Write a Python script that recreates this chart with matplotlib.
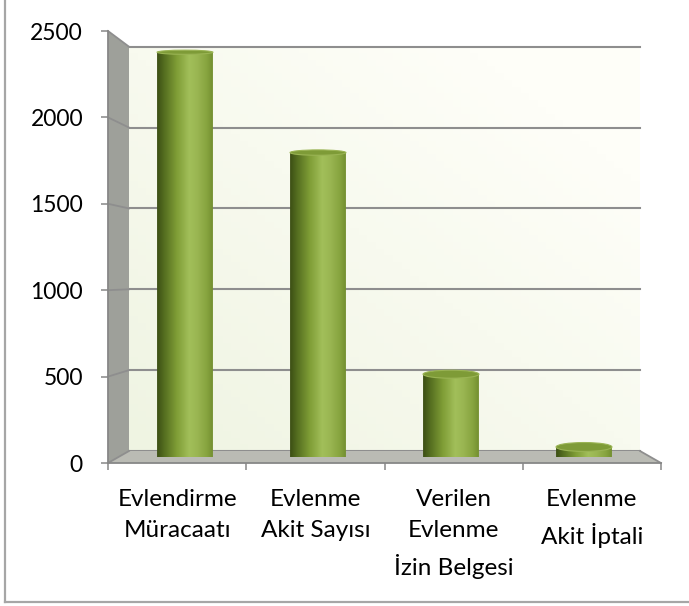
import numpy as np
import matplotlib
matplotlib.use("Agg")
import matplotlib.pyplot as plt
from matplotlib.patches import Polygon, Ellipse
from matplotlib.lines import Line2D
from matplotlib.transforms import IdentityTransform
from matplotlib.colors import LinearSegmentedColormap, to_rgb

# ---------------- data ----------------
categories = ["Evlendirme\nMüracaatı", "Evlenme\nAkit Sayısı",
              "Verilen\nEvlenme\nİzin Belgesi", "Evlenme\nAkit İptali"]
values = [2420, 1820, 495, 60]
y_ticks = [0, 500, 1000, 1500, 2000, 2500]
y_max = 2500

plt.rcParams['font.family'] = ['Lato', 'DejaVu Sans']

W, H = 689, 606
fig = plt.figure(figsize=(W / 100, H / 100), dpi=100)
fig.patch.set_facecolor('white')


def rect(l, t, r, b):
    return [l / W, 1 - b / H, (r - l) / W, (b - t) / H]


FRONT = (108, 31, 661, 463)
BACK = (129, 46.7, 640, 451)
MID = tuple((f + b) / 2 for f, b in zip(FRONT, BACK))
n = len(categories)

GRID = '#8e8e8e'
AXC = '#878787'

# ---------------- back wall ----------------
ax_back = fig.add_axes(rect(*BACK), zorder=0)
ax_back.set_xlim(0, n)
ax_back.set_ylim(0, y_max)
c1 = np.array(to_rgb('#eff4e2'))
c2 = np.array(to_rgb('#fefef8'))
gx, gy = np.meshgrid(np.linspace(0, 1, 60), np.linspace(0, 1, 60))
t = np.clip((gx * 0.6 + gy * 0.6), 0, 1)[..., None]
wall = c1 * (1 - t) + c2 * t
ax_back.imshow(wall, extent=(0, n, 0, y_max), origin='lower', aspect='auto', zorder=0)
ax_back.set_xlim(0, n)
ax_back.set_ylim(0, y_max)
ax_back.set_yticks(y_ticks)
ax_back.set_xticks([])
ax_back.tick_params(length=0, labelleft=False, labelbottom=False)
ax_back.yaxis.grid(True, color=GRID, lw=1.5)
for gl in ax_back.get_ygridlines():
    gl.set_clip_on(False)
for s in ax_back.spines.values():
    s.set_visible(False)

# ---------------- front axes (ticks / labels) ----------------
ax_front = fig.add_axes(rect(*FRONT), zorder=2)
ax_front.set_facecolor('none')
ax_front.set_xlim(0, n)
ax_front.set_ylim(0, y_max)
ax_front.set_yticks(y_ticks)
ax_front.set_yticklabels([str(v) for v in y_ticks])
ax_front.set_xticks(np.arange(n + 1))
ax_front.set_xticklabels([])
ax_front.set_xticks(np.arange(n) + 0.5, minor=True)
ax_front.set_xticklabels(categories, minor=True, linespacing=1.62)
ax_front.tick_params(axis='y', length=5, width=1.1, color=AXC, pad=13,
                     labelsize=16.5, labelcolor='black')
ax_front.tick_params(axis='x', which='major', length=5, width=1.1, color=AXC)
ax_front.tick_params(axis='x', which='minor', length=0, pad=18.5,
                     labelsize=17.5, labelcolor='black')
for side in ('top', 'right'):
    ax_front.spines[side].set_visible(False)
for side in ('left', 'bottom'):
    ax_front.spines[side].set_color(AXC)
    ax_front.spines[side].set_linewidth(1.3)

# ---------------- side wall & floor ----------------
F = ax_front.transAxes.transform
B = ax_back.transAxes.transform
side = Polygon([F((0, 1)), B((0, 1)), B((0, 0)), F((0, 0))], closed=True,
               transform=IdentityTransform(), facecolor='#9ea09a',
               edgecolor='none', zorder=1)
floor = Polygon([F((0, 0)), B((0, 0)), B((1, 0)), F((1, 0))], closed=True,
                transform=IdentityTransform(), facecolor='#babbb4',
                edgecolor='none', zorder=1)
fig.add_artist(side)
fig.add_artist(floor)
for v in y_ticks:
    p0 = ax_front.transData.transform((0, v))
    p1 = ax_back.transData.transform((0, v))
    fig.add_artist(Line2D([p0[0], p1[0]], [p0[1], p1[1]], color=GRID, lw=1.3,
                          transform=IdentityTransform(), zorder=1.5))
p0, p1 = B((1, 0)), F((1, 0))
fig.add_artist(Line2D([p0[0], p1[0]], [p0[1], p1[1]], color=GRID, lw=1.3,
                      transform=IdentityTransform(), zorder=1.5))

# ---------------- cylinders ----------------
ax_mid = fig.add_axes(rect(*MID), zorder=3)
ax_mid.set_facecolor('none')
ax_mid.set_xlim(0, n)
ax_mid.set_ylim(0, y_max)
ax_mid.axis('off')

cyl = LinearSegmentedColormap.from_list('cyl', [
    (0.00, '#3c4f14'), (0.12, '#536c1f'), (0.35, '#7f9d36'),
    (0.58, '#a2bf5a'), (0.72, '#9ab652'), (0.90, '#86a33e'), (1.00, '#738f30')])
grad = cyl(np.linspace(0, 1, 128))[None, :, :3]

upp = y_max / ax_mid.bbox.height          # data units per pixel
bar_w = 0.42
bars = ax_mid.bar(np.arange(n) + 0.5, values, width=bar_w, color='none', linewidth=0)
for b, v in zip(bars, values):
    x0, w, h = b.get_x(), b.get_width(), b.get_height()
    xc = x0 + w / 2
    eh_bot = 7 * upp
    eh_top = (4 + 5 * (1 - v / y_max)) * upp
    tt = np.linspace(np.pi, 2 * np.pi, 60)
    pts = [(x0, h), (x0, 0)] + [(xc + w / 2 * np.cos(a), eh_bot / 2 * np.sin(a)) for a in tt] + [(x0 + w, h)]
    body = Polygon(pts, closed=True, transform=ax_mid.transData, facecolor='none',
                   edgecolor='none')
    ax_mid.add_patch(body)
    im = ax_mid.imshow(grad, extent=(x0, x0 + w, -eh_bot, h), aspect='auto', zorder=2)
    im.set_clip_path(body)
    top = Ellipse((xc, h), w, eh_top, facecolor='#7e9b37', edgecolor='#9ab454',
                  lw=0.8, zorder=3, clip_on=False)
    ax_mid.add_patch(top)
ax_mid.set_xlim(0, n)
ax_mid.set_ylim(0, y_max)

# ---------------- outer frame (left & bottom visible) ----------------
fig.add_artist(Line2D([5 / W, 5 / W], [1, 1 - 602 / H], color='#a6a6a6', lw=1.6,
                      transform=fig.transFigure))
fig.add_artist(Line2D([5 / W, 1], [1 - 602 / H, 1 - 602 / H], color='#a6a6a6', lw=1.6,
                      transform=fig.transFigure))

fig.savefig('out.png', dpi=100)
